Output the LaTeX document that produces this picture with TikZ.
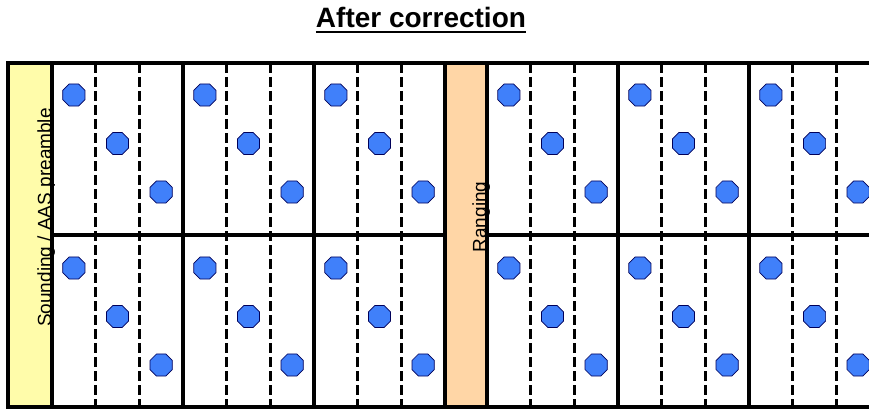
\documentclass[tikz,border=0pt]{standalone}
\usepackage{fontspec}
\setmainfont{Liberation Sans}
\usetikzlibrary{shapes.geometric}
\definecolor{yel}{RGB}{255,252,170}
\definecolor{ora}{RGB}{255,214,166}
\definecolor{dotblue}{RGB}{64,128,250}
\tikzset{
  solidln/.style={line width=3.4pt},
  dashln/.style={line width=3.2pt, dash pattern=on 10pt off 4pt},
  dotnode/.style={regular polygon, regular polygon sides=8, minimum size=24pt, inner sep=0pt,
    fill=dotblue, draw=black!65!blue, line width=0.7pt},
  vlabel/.style={rotate=90, anchor=base, inner sep=0pt, font=\fontsize{19}{19}\selectfont},
  titlelbl/.style={anchor=base, inner sep=0pt, font=\bfseries\fontsize{28}{28}\selectfont}
}
\begin{document}
\begin{tikzpicture}[x=1pt,y=-1pt]
\useasboundingbox (0,0) rectangle (869,409);
\clip (0,0) rectangle (869,409);
\def\w{43.667}
% fills
\fill[yel] (8,63) rectangle (52,407);
\fill[ora] (445,63) rectangle (487,407);
% dashed slot boundaries
\foreach \b in {52,487}{
  \foreach \k in {1,2,4,5,7,8}{
    \draw[dashln] ({\b+\k*\w},63) -- ({\b+\k*\w},407);
  }
}
% horizontal lines
\draw[solidln] (8,63) -- (900,63);
\draw[solidln] (52,235) -- (445,235);
\draw[solidln] (487,235) -- (900,235);
\draw[solidln] (8,407) -- (900,407);
% solid verticals
\draw[solidln] (8,61.3) -- (8,408.7);
\foreach \b in {52,487}{
  \foreach \k in {0,3,6,9}{
    \draw[solidln] ({\b+\k*\w},63) -- ({\b+\k*\w},407);
  }
}
% dots
\foreach \b/\n in {52/L,487/R}{
  \foreach \g in {0,1,2}{
    \foreach \s in {0,1,2}{
      \node[dotnode] (dot\n-\g-\s-t) at ({\b+(3*\g+\s+0.5)*\w},{95+48.5*\s}) {};
      \node[dotnode] (dot\n-\g-\s-b) at ({\b+(3*\g+\s+0.5)*\w},{268+48.5*\s}) {};
    }
  }
}
% labels
\node[vlabel] (sounding) at (51,217.5) {Sounding / AAS preamble};
\node[vlabel] (ranging) at (486,217) {Ranging};
\node[titlelbl] (title) at (421,28) {After correction};
\draw[line width=2pt] ([yshift=-4pt]title.base west) -- ([yshift=-4pt]title.base east);
\end{tikzpicture}
\end{document}
